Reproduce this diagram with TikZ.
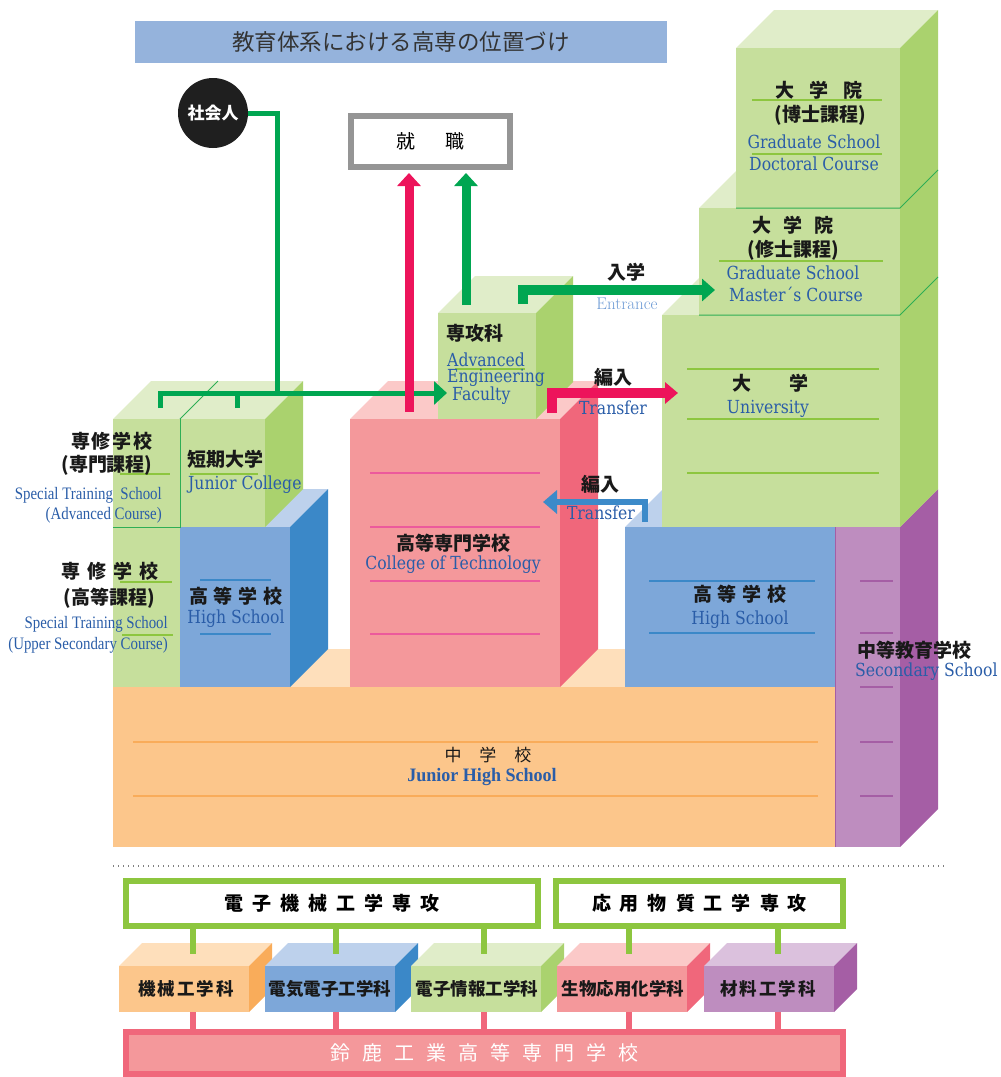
\documentclass[tikz,border=0pt]{standalone}
\usepackage{fontspec}
\usepackage{graphicx}
\usetikzlibrary{arrows.meta}
\newfontfamily\jp{Noto Sans CJK JP}
\newfontfamily\tms{Liberation Serif}
\newfontfamily\ens[FakeStretch=0.87]{DejaVu Serif}
\definecolor{gF}{HTML}{C6DF9C}
\definecolor{gT}{HTML}{E0EDC9}
\definecolor{gS}{HTML}{AAD26E}
\definecolor{gL}{HTML}{8DC63F}
\definecolor{gE}{HTML}{2EAE55}
\definecolor{pF}{HTML}{F4989B}
\definecolor{pT}{HTML}{FBC9C8}
\definecolor{pS}{HTML}{F0677B}
\definecolor{pL}{HTML}{EC5A9C}
\definecolor{bF}{HTML}{7DA7D9}
\definecolor{bT}{HTML}{BDD1EC}
\definecolor{bS}{HTML}{3B88C8}
\definecolor{oF}{HTML}{FCC68B}
\definecolor{oT}{HTML}{FEDFBB}
\definecolor{oS}{HTML}{F9AC5A}
\definecolor{uF}{HTML}{BE8DBF}
\definecolor{uT}{HTML}{DBC1DD}
\definecolor{uS}{HTML}{A55EA5}
\definecolor{arG}{HTML}{00A651}
\definecolor{arR}{HTML}{ED145B}
\definecolor{arB}{HTML}{3C8AC9}
\definecolor{ttl}{HTML}{95B3DC}
\definecolor{enC}{HTML}{2A5DA8}
\definecolor{entC}{HTML}{6E9BD5}
\definecolor{jobC}{HTML}{959595}
% name, x, y, w, h, depth, colour prefix
\newcommand{\cube}[7]{%
  \fill[#7T] (#2,#3) -- ++(#6,-#6) -- ++(#4,0) -- ++(-#6,#6) -- cycle;
  \fill[#7S] (#2+#4,#3) -- ++(#6,-#6) -- ++(0,#5) -- ++(-#6,#6) -- cycle;
  \node[face, fill=#7F, minimum width=#4pt, minimum height=#5pt, anchor=north west] (#1) at (#2,#3) {};
}
\begin{document}
\begin{tikzpicture}[x=1pt,y=-1pt,
  face/.style={inner sep=0pt, outer sep=0pt},
  jp/.style={font=\jp\bfseries\fontsize{19}{19}\selectfont, text=black!90, inner sep=0pt},
  jps/.style={font=\jp\bfseries\fontsize{17.5}{17.5}\selectfont, text=black!90, inner sep=0pt},
  en/.style={font=\ens\fontsize{18}{18}\selectfont, text=enC, inner sep=0pt},
  tm/.style={font=\tms\fontsize{17.5}{17.5}\selectfont, text=enC, inner sep=0pt},
  deco/.style={line width=2pt},
  edgeG/.style={draw=gE, line width=1pt},
  gline/.style={draw=arG, line width=5pt},
  gconn/.style={draw=gL, line width=6pt},
  pconn/.style={draw=pS, line width=6pt},
]
\useasboundingbox (0,0) rectangle (1001,1077);

% ---------- title ----------
\node[face, fill=ttl, minimum width=532pt, minimum height=42pt,
  font=\jp\fontsize{22.5}{22.5}\selectfont, text=black!80] (title) at (401,42) {教育体系における高専の位置づけ};

% ---------- junior high (base) ----------
\cube{jh}{113}{687}{722}{160}{38}{o}

% ---------- left column ----------
\cube{hsL}{180}{527}{110}{160}{38}{b}
\fill[gT] (113,419) -- (151,381) -- (303,381) -- (265,419) -- cycle;
\fill[gS] (265,419) -- (303,381) -- (303,489) -- (265,527) -- cycle;
\node[face, fill=gF, minimum width=67pt, minimum height=268pt, anchor=north west] (sts) at (113,419) {};
\node[face, fill=gF, minimum width=85pt, minimum height=108pt, anchor=north west] (jc) at (180,419) {};
\draw[edgeG, line width=0.8pt] (jc.north west) -- ++(38,-38);
\draw[edgeG, line width=0.8pt] (jc.north west) -- (jc.south west) -- (sts.west |- jc.south west);

% ---------- college of technology ----------
\cube{kosen}{350}{419}{210}{268}{38}{p}
\cube{adv}{438}{313}{98}{106}{37}{g}

% ---------- right tower ----------
\cube{hsR}{625}{527}{210}{160}{38}{b}
\cube{pu}{835}{527}{65}{320}{38}{u}
\cube{univ}{662}{315}{238}{212}{38}{g}
\cube{ms}{699}{208}{201}{107}{38}{g}
\cube{dr}{736}{48}{164}{160}{38}{g}
\draw[edgeG] (dr.south west) -- (dr.south east) -- ++(38,-38);
\draw[edgeG] (ms.south west) -- (ms.south east) -- ++(38,-38);
\draw[draw=uS, line width=1pt] (pu.north west) -- (pu.south west);

% ---------- decorative rules ----------
\foreach \y in {100,154} \draw[deco, gL] (752,\y) -- (882,\y);
\draw[deco, gL] (719,261) -- (883,261);
\foreach \y in {369,419,473} \draw[deco, gL] (687,\y) -- (879,\y);
\foreach \y in {581,633} \draw[deco, bS] (649,\y) -- (815,\y);
\foreach \y in {581,633,687,742,796} \draw[deco, uS] (860,\y) -- (893,\y);
\foreach \y in {742,796} \draw[deco, oS] (133,\y) -- (818,\y);
\foreach \y in {473,527,581,634} \draw[deco, pL] (370,\y) -- (540,\y);
\foreach \y in {580,634} \draw[deco, bS] (200,\y) -- (271,\y);
\draw[deco, gL] (120,474) -- (170,474);
\draw[deco, gL] (190,474) -- (258,474);
\draw[deco, gL] (120,582) -- (172,582);
\draw[deco, gL] (122,635) -- (173,635);
\draw[deco, gL] (455,369) -- (525,369);

% ---------- block labels ----------
\node[jp] (l1) at (819,90) {大\hspace{15pt}学\hspace{15pt}院};
\node[jp] (l2) at (820,115) {(博士課程)};
\node[en] (l3) at (814,142) {Graduate School};
\node[en] (l4) at (814,164) {Doctoral Course};
\node[jp] (l5) at (793,225) {大\hspace{12pt}学\hspace{12pt}院};
\node[jp] (l6) at (793,250) {(修士課程)};
\node[en] (l7) at (793,273) {Graduate School};
\node[en] (l8) at (796,294) {Master´s Course};
\node[jp] (l9) at (770,383) {大\hspace{38pt}学};
\node[en] (l10) at (768,409) {University};
\node[jp] (l11) at (740,594) {高\hspace{6pt}等\hspace{6pt}学\hspace{6pt}校};
\node[en] (l12) at (740,620) {High School};
\node[jp, anchor=west] (l13) at (857,650) {中等教育学校};
\node[en, anchor=west] (l14) at (855,672) {Secondary School};
\node[jp, font=\jp\fontsize{17}{17}\selectfont] (l15) at (488,755) {中\hspace{18pt}学\hspace{18pt}校};
\node[tm, font=\tms\bfseries\fontsize{19}{19}\selectfont] (l16) at (482,777) {\scalebox{0.95}[1]{Junior High School}};
\node[jp] (l17) at (453,543) {高等専門学校};
\node[en] (l18) at (453,565) {College of Technology};
\node[jp, anchor=west] (l19) at (446,333) {専攻科};
\node[en, anchor=west] (l20) at (447,360) {Advanced};
\node[en, anchor=west] (l21) at (447,378) {Engineering};
\node[en, anchor=west] (l22) at (452,396) {Faculty};
\node[jp] (l23) at (236,596) {高\hspace{6pt}等\hspace{6pt}学\hspace{6pt}校};
\node[en] (l24) at (236,619) {High School};
\node[jp, anchor=west] (l25) at (187,459) {短期大学};
\node[en, anchor=west] (l26) at (188,485) {Junior College};
\node[jp] (l27) at (112,441) {専\hspace{2pt}修\hspace{2pt}学\hspace{2pt}校};
\node[jp] (l28) at (107,465) {(専門課程)};
\node[tm, anchor=east] (l29) at (162,495) {\scalebox{0.85}[1]{Special Training\ \ School}};
\node[tm, anchor=east] (l30) at (162,515) {\scalebox{0.85}[1]{(Advanced Course)}};
\node[jp] (l31) at (110,571) {専\hspace{7pt}修\hspace{7pt}学\hspace{7pt}校};
\node[jp] (l32) at (109,598) {(高等課程)};
\node[tm, anchor=east] (l33) at (168,624) {\scalebox{0.85}[1]{Special Training School}};
\node[tm, anchor=east] (l34) at (168,645) {\scalebox{0.85}[1]{(Upper Secondary Course)}};

% ---------- social / job ----------
\node[circle, fill=black!88, minimum size=70pt, inner sep=0pt, text=white,
  font=\jp\bfseries\fontsize{17}{17}\selectfont] (soc) at (213,113) {社会人};
\node[draw=jobC, line width=6pt, fill=white, minimum width=159pt, minimum height=51pt,
  font=\jp\fontsize{19}{19}\selectfont] (job) at (430.5,141.5) {就\hspace{31pt}職};

% ---------- arrows ----------
\coordinate (junc) at (277.5,393);
\coordinate (sA) at (160.5,408);
\coordinate (sB) at (237,408);
\coordinate (fE) at (447,393);
\draw[gline] (soc) -| (junc);
\draw[gline, -{Triangle[width=23pt,length=13pt]}] (sA) |- (fE);
\draw[gline] (sB) -- (sB |- fE);

\coordinate (kR0) at (409,412);
\coordinate (kR1) at (409,173);
\coordinate (kG0) at (466,305);
\coordinate (kG1) at (466,173);
\draw[draw=arR, line width=9pt, -{Triangle[width=23pt,length=13pt]}] (kR0) -- (kR1);
\draw[draw=arG, line width=9pt, -{Triangle[width=23pt,length=13pt]}] (kG0) -- (kG1);

\coordinate (eA) at (523,304);
\coordinate (eB) at (715,290);
\draw[draw=arG, line width=10pt, -{Triangle[width=22pt,length=13pt]}] (eA) |- (eB);
\coordinate (tA0) at (552,413);
\coordinate (tA1) at (678,393);
\draw[draw=arR, line width=10pt, -{Triangle[width=21pt,length=13pt]}] (tA0) |- (tA1);
\coordinate (tB0) at (644.5,522);
\coordinate (tB1) at (543,502);
\draw[draw=arB, line width=6pt, -{Triangle[width=23pt,length=14pt]}] (tB0) |- (tB1);

\node[jp] (a1) at (626,272) {入学};
\node[font=\fontsize{17}{17}\selectfont, text=entC, inner sep=0pt] (a2) at (627,304) {Entrance};
\node[jp] (a3) at (613,377) {編入};
\node[en] (a4) at (613,408) {Transfer};
\node[jp] (a5) at (600,484) {編入};
\node[en] (a6) at (601,513) {Transfer};

% ---------- lower part ----------
\coordinate (dl0) at (113,866);
\coordinate (dl1) at (945,866);
\draw[gray, line width=1.2pt, dash pattern=on 1.2pt off 3.8pt] (dl0) -- (dl1);

\node[draw=gL, line width=6pt, fill=white, minimum width=412pt, minimum height=45pt,
  font=\jp\bfseries\fontsize{19}{19}\selectfont] (mj1) at (332,903.5)
  {電\hspace{9pt}子\hspace{9pt}機\hspace{9pt}械\hspace{9pt}工\hspace{9pt}学\hspace{9pt}専\hspace{9pt}攻};
\node[draw=gL, line width=6pt, fill=white, minimum width=287pt, minimum height=45pt,
  font=\jp\bfseries\fontsize{19}{19}\selectfont] (mj2) at (699.5,903.5)
  {応\hspace{9pt}用\hspace{9pt}物\hspace{9pt}質\hspace{9pt}工\hspace{9pt}学\hspace{9pt}専\hspace{9pt}攻};

\cube{dA}{119}{966}{130}{46}{23}{o}
\cube{dB}{265}{966}{130}{46}{23}{b}
\cube{dC}{411}{966}{130}{46}{23}{g}
\cube{dD}{557}{966}{130}{46}{23}{p}
\cube{dE}{704}{966}{130}{46}{23}{u}
\node[jps] (n1) at (186,989) {機\hspace{2pt}械\hspace{2pt}工\hspace{2pt}学\hspace{2pt}科};
\node[jps] (n2) at (330,989) {電気電子工学科};
\node[jps] (n3) at (477,989) {電子情報工学科};
\node[jps] (n4) at (623,989) {生物応用化学科};
\node[jps] (n5) at (768,989) {材\hspace{2pt}料\hspace{2pt}工\hspace{2pt}学\hspace{2pt}科};

\node[draw=pS, line width=6pt, fill=pF, minimum width=717pt, minimum height=42pt, text=white,
  font=\jp\fontsize{20}{20}\selectfont] (school) at (484.5,1053)
  {鈴\hspace{12pt}鹿\hspace{12pt}工\hspace{12pt}業\hspace{12pt}高\hspace{12pt}等\hspace{12pt}専\hspace{12pt}門\hspace{12pt}学\hspace{12pt}校};

\coordinate (tA) at (193,954);
\coordinate (tB) at (336,954);
\coordinate (tC) at (484,954);
\coordinate (tD) at (629,954);
\coordinate (tE) at (778,954);
\draw[gconn] (mj1.south -| tA) -- (tA);
\draw[gconn] (mj1.south -| tB) -- (tB);
\draw[gconn] (mj1.south -| tC) -- (tC);
\draw[gconn] (mj2.south -| tD) -- (tD);
\draw[gconn] (mj2.south -| tE) -- (tE);
\draw[pconn] (dA.south -| tA) -- (school.north -| tA);
\draw[pconn] (dB.south -| tB) -- (school.north -| tB);
\draw[pconn] (dC.south -| tC) -- (school.north -| tC);
\draw[pconn] (dD.south -| tD) -- (school.north -| tD);
\draw[pconn] (dE.south -| tE) -- (school.north -| tE);
\end{tikzpicture}
\end{document}
